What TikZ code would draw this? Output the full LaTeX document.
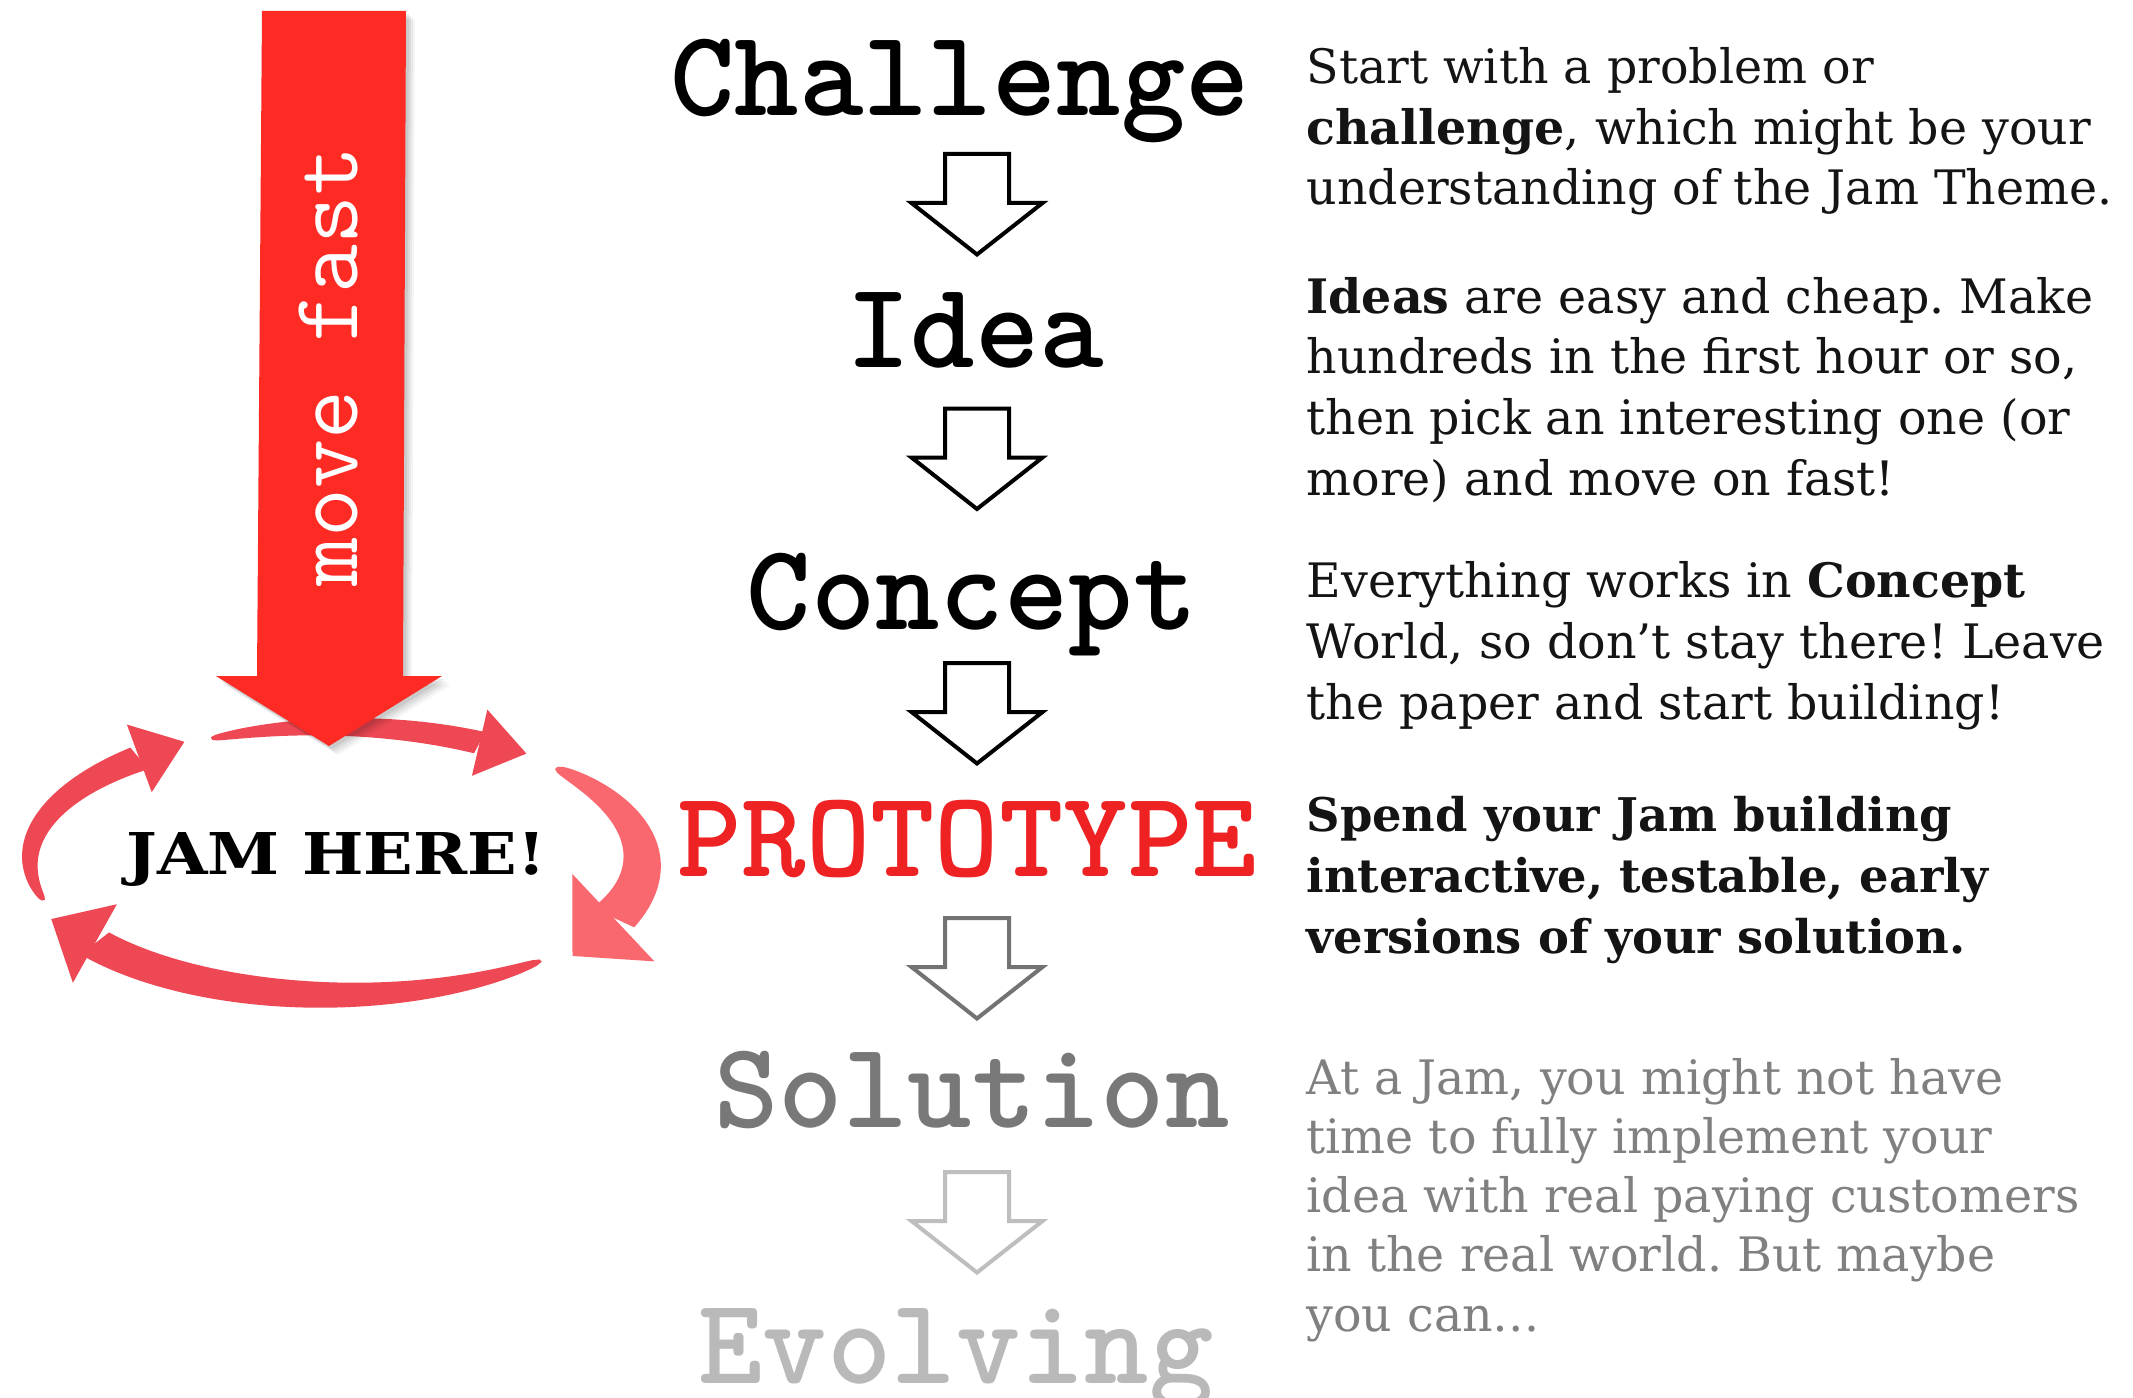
\documentclass[tikz,border=0pt]{standalone}
\usepackage{fontspec}
\setmainfont{DejaVu Serif}
\usepackage{graphicx}
\frenchspacing
\definecolor{jamred}{RGB}{254,42,36}
\definecolor{cyc}{RGB}{238,72,84}
\definecolor{cycl}{RGB}{248,104,110}
\definecolor{protored}{RGB}{238,34,34}
\definecolor{solgray}{RGB}{120,120,120}
\definecolor{evogray}{RGB}{185,185,185}
\definecolor{arrgray}{RGB}{115,115,115}
\definecolor{arrlight}{RGB}{190,190,190}
\definecolor{textblack}{RGB}{20,20,20}
\definecolor{textgray}{RGB}{128,128,128}
\def\cyX{336}\def\cyY{861}\def\cyA{306}\def\cyB{134}
% start angle, end angle, max width, head half width, head length, colour
\newcommand\cycarrow[6]{%
  \pgfmathsetmacro\cyts{#1}%
  \pgfmathsetmacro\cyte{#2}%
  \pgfmathsetmacro\cywm{#3}%
  \fill[#6] plot[domain=\cyts:\cyte,samples=60,variable=\q]
    ({\cyX+(\cyA+0.5*(3+(\cywm-3)*sqrt((\cyts-\q)/(\cyts-\cyte))))*cos(\q)},{\cyY-(\cyB+0.5*(3+(\cywm-3)*sqrt((\cyts-\q)/(\cyts-\cyte))))*sin(\q)})
    -- plot[domain=\cyte:\cyts,samples=60,variable=\q]
    ({\cyX+(\cyA-0.5*(3+(\cywm-3)*sqrt((\cyts-\q)/(\cyts-\cyte))))*cos(\q)},{\cyY-(\cyB-0.5*(3+(\cywm-3)*sqrt((\cyts-\q)/(\cyts-\cyte))))*sin(\q)})
    -- cycle;
  \pgfmathsetmacro\cybx{\cyX+\cyA*cos(\cyte)}%
  \pgfmathsetmacro\cyby{\cyY-\cyB*sin(\cyte)}%
  \pgfmathsetmacro\cytx{\cyA*sin(\cyte)/100}%
  \pgfmathsetmacro\cyty{\cyB*cos(\cyte)/100}%
  \pgfmathsetmacro\cytn{sqrt(\cytx*\cytx+\cyty*\cyty)}%
  \pgfmathsetmacro\cyux{\cytx/\cytn}%
  \pgfmathsetmacro\cyuy{\cyty/\cytn}%
  \fill[#6] ({\cybx+#4*\cyuy},{\cyby-#4*\cyux}) -- ({\cybx+#5*\cyux},{\cyby+#5*\cyuy}) -- ({\cybx-#4*\cyuy},{\cyby+#4*\cyux}) -- cycle;
}
\begin{document}
\begin{tikzpicture}[x=0.375pt,y=-0.375pt,
  headtext/.style={anchor=base,inner sep=0pt,font=\ttfamily\bfseries\fontsize{46}{46}\selectfont},
  paratext/.style={anchor=base west,align=left,inner sep=0pt,font=\fontsize{17.8}{22.7}\selectfont,text=textblack},
  hollow/.style={line width=1.5pt,line join=miter},
  downarrow/.pic={\draw[hollow] (-32,0) -- (32,0) -- (32,49) -- (65.5,49) -- (0,100.5) -- (-65.5,49) -- (-32,49) -- cycle;}
]
\useasboundingbox (0,0) rectangle (2133,1398);
\fill[white] (0,0) rectangle (2133,1398);

% cycle arrows
\cycarrow{114}{62}{24}{34}{48}{cyc}
\cycarrow{44}{-25}{46}{60}{56}{cycl}
\cycarrow{-48}{-142}{36}{45}{50}{cyc}
\cycarrow{197}{130}{28}{36}{48}{cyc}

% red arrow with soft shadow
\foreach \s/\o in {9/0.04,7/0.05,5/0.06,3/0.07}
  \fill[black,opacity=\o] (262+\s,11+\s) -- (406+\s,11+\s) -- (403+\s,676+\s) -- (442+\s,676+\s) -- (329+\s,746+\s) -- (216+\s,676+\s) -- (257+\s,676+\s) -- cycle;
\fill[jamred] (262,11) -- (406,11) -- (403,676) -- (442,676) -- (329,746) -- (216,676) -- (257,676) -- cycle;
\node[rotate=90,anchor=base,inner sep=0pt,text=white,font=\ttfamily\fontsize{35.6}{35.6}\selectfont] (movefast) at (357,366.5) {move fast};

\node[anchor=base,inner sep=0pt,font=\bfseries\fontsize{21.6}{21.6}\selectfont,text=black] (jam) at (336,874) {\scalebox{1.13}[1]{JAM HERE!}};

% headings
\node[headtext] (challenge) at (960,116) {Challenge};
\node[headtext] (idea) at (975,368) {Idea};
\node[headtext] (concept) at (972,629.5) {Concept};
\node[headtext,text=protored] (prototype) at (967,876) {PROTOTYPE};
\node[headtext,text=solgray] (solution) at (972,1127) {Solution};
\node[headtext,text=evogray] (evolving) at (956,1383) {Evolving};

\pic[black] at (977,154) {downarrow};
\pic[black] at (977,408.5) {downarrow};
\pic[black] at (977,663) {downarrow};
\pic[arrgray] at (977,918) {downarrow};
\pic[arrlight] at (977,1172) {downarrow};

% descriptions (anchored at the baseline of the last line)
\node[paratext] (p1) at (1306,205) {Start with a problem or\\\textbf{challenge}, which might be your\\understanding of the Jam Theme.};
\node[paratext] (p2) at (1306,495) {\textbf{Ideas} are easy and cheap. Make\\hundreds in the first hour or so,\\then pick an interesting one (or\\more) and move on fast!};
\node[paratext] (p3) at (1306,719) {Everything works in \textbf{Concept}\\World, so don’t stay there! Leave\\the paper and start building!};
\node[paratext,font=\bfseries\fontsize{17.4}{22.7}\selectfont] (p4) at (1306,953) {Spend your Jam building\\interactive, testable, early\\versions of your solution.};
\node[paratext,text=textgray,font=\fontsize{17.8}{22.2}\selectfont] (p5) at (1306,1331) {At a Jam, you might not have\\time to fully implement your\\idea with real paying customers\\in the real world. But maybe\\you can…};
\end{tikzpicture}
\end{document}
